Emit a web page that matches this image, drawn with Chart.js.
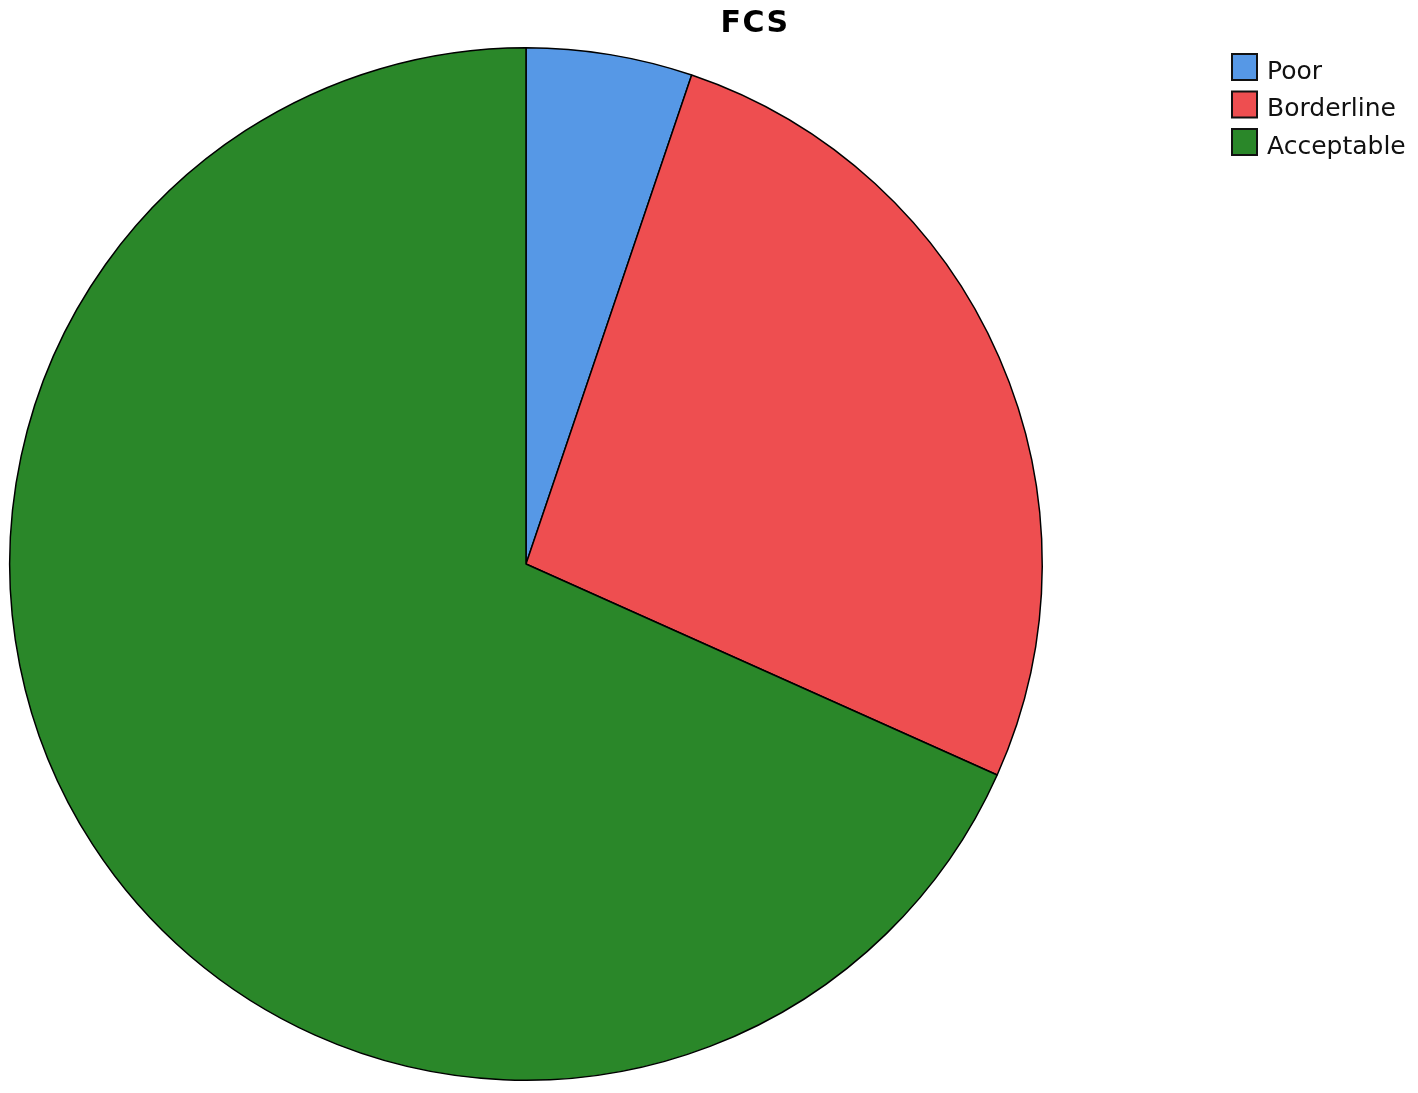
<!DOCTYPE html>
<html>
<head>
<meta charset="utf-8">
<script src="https://cdn.jsdelivr.net/npm/chart.js@4.4.1/dist/chart.umd.min.js"></script>
<style>
  html, body { margin: 0; padding: 0; background: #fff; }
  #wrap { width: 1418px; height: 1093px; }
</style>
</head>
<body>
<div id="wrap"><canvas id="fcsChart" width="1418" height="1093"></canvas></div>
<script>
// FCS categories and their share (percent)
const categories = ['Poor', 'Borderline', 'Acceptable'];
const shares = [5.2, 26.5, 68.3];
const sliceColors = ['#5698E6', '#EE4E50', '#2A8729'];
const chartTitle = 'FCS';

// title + legend drawn the SPSS way (title over the pie, legend box top right)
const spssDecor = {
    id: 'spssDecor',
    afterDraw(chart) {
        const ctx = chart.ctx;
        ctx.save();
        ctx.fillStyle = '#000';
        ctx.font = 'bold 30px "DejaVu Sans", sans-serif';
        ctx.letterSpacing = '1.5px';
        ctx.textAlign = 'center';
        ctx.textBaseline = 'middle';
        ctx.fillText(chartTitle, 755, 24);
        ctx.letterSpacing = '0px';

        const labels = chart.data.labels;
        const colors = chart.data.datasets[0].backgroundColor;
        ctx.font = '25px "DejaVu Sans", sans-serif';
        ctx.textAlign = 'left';
        labels.forEach((lab, i) => {
            const y = 54 + i * 37.5;
            ctx.fillStyle = colors[i];
            ctx.fillRect(1232, y, 25, 26);
            ctx.lineWidth = 2;
            ctx.strokeStyle = '#111';
            ctx.strokeRect(1232, y, 25, 26);
            ctx.fillStyle = '#111';
            ctx.fillText(lab, 1267, y + 18);
        });
        ctx.restore();
    }
};

new Chart('fcsChart', {
    type: 'pie',
    data: {
        labels: categories,
        datasets: [{
            data: shares,
            backgroundColor: sliceColors,
            borderColor: '#000',
            borderWidth: 1.5
        }]
    },
    options: {
        responsive: false,
        animation: false,
        layout: { padding: { left: 9, top: 47, right: 375, bottom: 12 } },
        plugins: {
            legend: { display: false },
            title: { display: false },
            tooltip: { enabled: false }
        }
    },
    plugins: [spssDecor]
});
</script>
</body>
</html>
